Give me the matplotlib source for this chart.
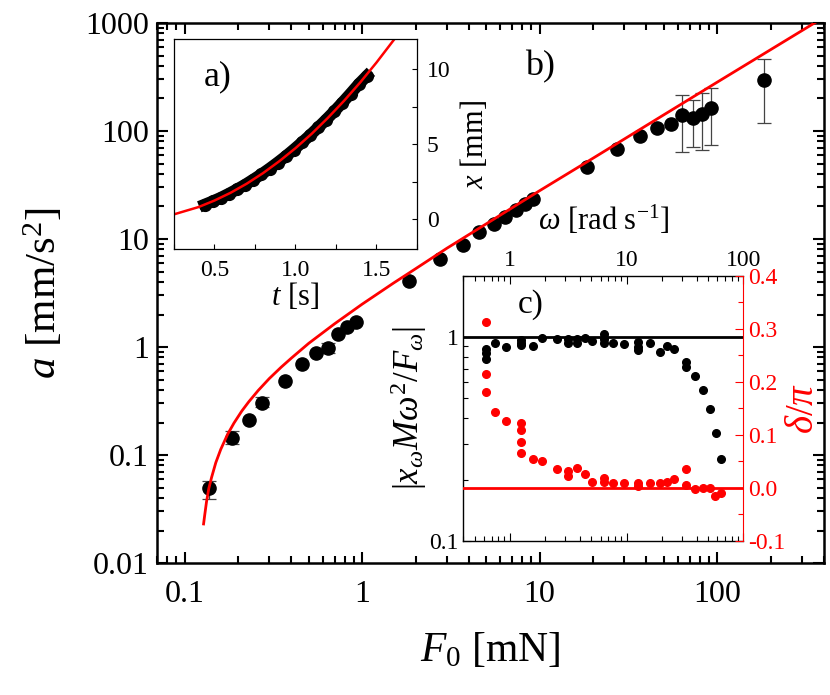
import numpy as np
import matplotlib
matplotlib.use('Agg')
import matplotlib.pyplot as plt
from matplotlib.ticker import MultipleLocator, FormatStrFormatter, FuncFormatter, LogLocator, NullFormatter

# serif fonts everywhere, italic math in the same family
plt.rcParams.update({'font.family': 'Liberation Serif', 'mathtext.fontset': 'custom',
                     'mathtext.rm': 'Liberation Serif', 'mathtext.it': 'Liberation Serif:italic',
                     'mathtext.fallback': 'stix', 'axes.unicode_minus': False})

# b) acceleration vs applied force
F0 = [0.137, 0.185, 0.231, 0.274, 0.367, 0.461, 0.55, 0.641, 0.73, 0.823, 0.92,
      1.84, 2.74, 3.68, 4.56, 5.54, 6.39, 7.35, 8.28, 9.23,
      18.4, 27.4, 36.7, 45.7, 54.8, 63.8, 73.2, 82.7, 92.2, 184]
acc = [0.049, 0.145, 0.21, 0.305, 0.484, 0.69, 0.885, 0.986, 1.33, 1.54, 1.70,
       4.08, 6.5, 8.8, 11.5, 13.9, 16.0, 18.4, 20.9, 23.6,
       46.4, 68.6, 89.9, 107, 117, 141, 131, 143, 162, 296]
# error bars (only some points have them)
F_err = [0.137, 0.185, 0.274, 0.641, 63.8, 73.2, 82.7, 92.2, 184]
acc_err = [0.049, 0.145, 0.305, 0.986, 141, 131, 143, 162, 296]
acc_lo = [0.039, 0.126, 0.28, 0.885, 64, 71, 66, 75, 119]
acc_hi = [0.058, 0.167, 0.347, 1.08, 215, 194, 224, 250, 460]
# red fit line
F_fit = [0.128, 0.13, 0.133, 0.137, 0.142, 0.15, 0.16, 0.175, 0.19, 0.21, 0.23, 0.26, 0.3,
         0.35, 0.4, 0.5, 0.7, 1.0, 1.5, 2, 3, 5, 10, 20, 50, 100, 200, 400]
acc_fit = [0.023, 0.028, 0.037, 0.049, 0.062, 0.085, 0.113, 0.156, 0.198, 0.255, 0.311, 0.396, 0.51,
           0.65, 0.79, 1.08, 1.64, 2.49, 3.9, 5.3, 8.2, 13.8, 28, 56, 141, 283, 566, 1132]

# a) position vs time
t_data = [0.44, 0.49, 0.54, 0.59, 0.64, 0.69, 0.74, 0.79, 0.84, 0.89, 0.94,
          0.99, 1.04, 1.09, 1.14, 1.19, 1.24, 1.29, 1.34, 1.39, 1.44]
x_data = [0.98, 1.20, 1.44, 1.71, 2.00, 2.31, 2.65, 3.00, 3.38, 3.78, 4.20,
          4.65, 5.12, 5.60, 6.12, 6.65, 7.20, 7.78, 8.38, 9.00, 9.55]
t_fit = [0.25, 0.4, 0.5, 0.6, 0.7, 0.8, 0.9, 1.0, 1.1, 1.2, 1.3, 1.4, 1.5, 1.61]
x_fit = [0.33, 0.81, 1.25, 1.77, 2.38, 3.08, 3.87, 4.74, 5.70, 6.76, 7.90, 9.13, 10.45, 12.0]

# c) response vs frequency
w_mag = [0.62, 0.62, 0.62, 0.753, 0.937, 1.26, 1.26, 1.26, 1.58, 1.9, 2.53, 3.14, 3.14,
         3.78, 3.78, 4.40, 5.10, 6.37, 6.37, 6.37, 7.62, 9.6, 12.5, 12.5, 12.5, 15.9,
         19.4, 22.1, 25.6, 32.1, 32.1, 38.3, 44.9, 52.0, 58.5, 64.6]
mag = [0.877, 0.835, 0.778, 0.939, 0.894, 0.971, 0.94, 0.911, 0.904, 0.989, 0.978, 0.975, 0.935,
       0.975, 0.935, 0.985, 0.956, 1.04, 0.982, 0.935, 0.935, 0.928, 0.945, 0.895, 0.863, 0.939,
       0.848, 0.90, 0.877, 0.755, 0.713, 0.644, 0.548, 0.446, 0.340, 0.252]
w_ph = [0.62, 0.62, 0.62, 0.753, 0.937, 1.26, 1.26, 1.26, 1.26, 1.58, 1.9, 2.53, 3.14, 3.14,
        3.78, 4.40, 5.10, 6.37, 6.37, 7.62, 9.6, 12.5, 12.5, 15.9, 19.4, 22.1, 25.6,
        32.1, 32.1, 38.3, 44.9, 52.0, 57.0, 64.6]
phase = [0.313, 0.215, 0.181, 0.143, 0.127, 0.123, 0.109, 0.086, 0.065, 0.055, 0.051, 0.036, 0.031, 0.023,
         0.038, 0.026, 0.011, 0.019, 0.011, 0.009, 0.009, 0.009, 0.004, 0.009, 0.009, 0.012, 0.016,
         0.035, 0.006, -0.002, -0.001, -0.001, -0.015, -0.010]

fig = plt.figure(figsize=(8.3, 6.95), dpi=100)

# ---- main panel
ax = fig.add_axes([0.1892, 0.1899, 0.8036, 0.7770])
ax.plot(F0, acc, 'o', color='k', ms=9.5, zorder=3)
acc_err = np.array(acc_err)
yerr = [acc_err - np.array(acc_lo), np.array(acc_hi) - acc_err]
ax.errorbar(F_err, acc_err, yerr=yerr, fmt='none', ecolor='#444444', elinewidth=0.9,
            capsize=5, capthick=0.9, zorder=2)
ax.plot(F_fit, acc_fit, color='red', lw=2, zorder=4)
ax.set_xscale('log')
ax.set_yscale('log')
ax.set_xlim(0.07, 400)
ax.set_ylim(0.01, 1000)
gfmt = FuncFormatter(lambda v, p: f'{v:g}')
ax.xaxis.set_major_formatter(gfmt)
ax.yaxis.set_major_formatter(gfmt)
ax.yaxis.set_major_locator(LogLocator(base=10, numticks=10))
ax.yaxis.set_minor_locator(LogLocator(base=10, subs=np.arange(2, 10), numticks=20))
ax.yaxis.set_minor_formatter(NullFormatter())
ax.tick_params(which='both', direction='in', top=True, right=True, labelsize=23, width=1.5)
ax.tick_params(which='major', length=8)
ax.tick_params(which='minor', length=5)
ax.tick_params(axis='x', which='major', pad=12)
ax.tick_params(axis='y', which='major', pad=6)
for s in ax.spines.values():
    s.set_linewidth(1.8)
ax.set_xlabel(r'$F_0$ [mN]', fontsize=30, labelpad=16)
ax.set_ylabel(r'$a$ [mm/s$^2$]', fontsize=31, labelpad=14)
fig.text(0.651, 0.904, 'b)', fontsize=26, ha='center', va='center')

# ---- inset a)
axa = fig.add_axes([0.2096, 0.6413, 0.2928, 0.3022])
axa.plot(t_data, x_data, 'o-', color='k', ms=8.5, lw=8.5)
axa.plot(t_fit, x_fit, color='red', lw=1.8)
axa.set_xlim(0.25, 1.75)
axa.set_ylim(-2, 12)
axa.xaxis.set_major_locator(MultipleLocator(0.5))
axa.xaxis.set_minor_locator(MultipleLocator(0.25))
axa.xaxis.set_major_formatter(FormatStrFormatter('%.1f'))
axa.yaxis.set_major_locator(MultipleLocator(5))
axa.yaxis.set_minor_locator(MultipleLocator(2.5))
axa.yaxis.tick_right()
axa.yaxis.set_label_position('right')
axa.tick_params(which='both', direction='in', left=False, right=True, top=False, bottom=True,
                labelsize=17, length=3.5, width=0.8, colors='k')
axa.tick_params(axis='x', pad=8)
axa.tick_params(axis='y', pad=7)
for s in axa.spines.values():
    s.set_linewidth(0.9)
axa.set_xlabel(r'$t$ [s]', fontsize=22, labelpad=0)
axa.set_ylabel(r'$x$ [mm]', fontsize=22, labelpad=6)
axa.text(0.18, 0.82, 'a)', transform=axa.transAxes, fontsize=26, ha='center', va='center')

# ---- inset c)
axc = fig.add_axes([0.5582, 0.2216, 0.3373, 0.3817])
axc.plot(w_mag, mag, 'o', color='k', ms=5.5)
axc.axhline(1, color='k', lw=2)
axc.set_xscale('log')
axc.set_yscale('log')
axc.set_xlim(0.4, 100)
axc.set_ylim(0.1, 2)
axc.xaxis.set_major_formatter(gfmt)
axc.yaxis.set_major_formatter(gfmt)
axc.yaxis.set_minor_formatter(NullFormatter())
axc.xaxis.set_minor_formatter(NullFormatter())
axc.xaxis.set_label_position('top')
axc.tick_params(which='both', direction='in', top=True, bottom=True, left=True, right=False,
                labeltop=True, labelbottom=False, labelsize=17, width=0.8)
axc.tick_params(which='major', length=6)
axc.tick_params(which='minor', length=3.5)
axc.spines['right'].set_visible(False)
for s in axc.spines.values():
    s.set_linewidth(1.0)
axc.set_xlabel(r'$\omega$ [rad s$^{-1}$]', fontsize=22, labelpad=14)
axc.set_ylabel(r'$|x_\omega M\omega^2/F_\omega|$', fontsize=25, labelpad=0)
axc.text(0.24, 0.89, 'c)', transform=axc.transAxes, fontsize=24, ha='center', va='center')

axc2 = axc.twinx()
axc2.plot(w_ph, phase, 'o', color='red', ms=5.5)
axc2.axhline(0, color='red', lw=2)
axc2.set_ylim(-0.1, 0.4)
axc2.yaxis.set_major_locator(MultipleLocator(0.1))
axc2.yaxis.set_minor_locator(MultipleLocator(0.05))
axc2.yaxis.set_major_formatter(FormatStrFormatter('%.1f'))
axc2.tick_params(which='both', direction='in', colors='red', labelsize=17, width=0.8)
axc2.tick_params(which='major', length=6)
axc2.tick_params(which='minor', length=3.5)
for k in ['left', 'top', 'bottom']:
    axc2.spines[k].set_visible(False)
axc2.spines['right'].set_color('red')
axc2.set_ylabel(r'$\delta/\pi$', fontsize=28, color='red', labelpad=0)

fig.savefig('out.png', dpi=100)
